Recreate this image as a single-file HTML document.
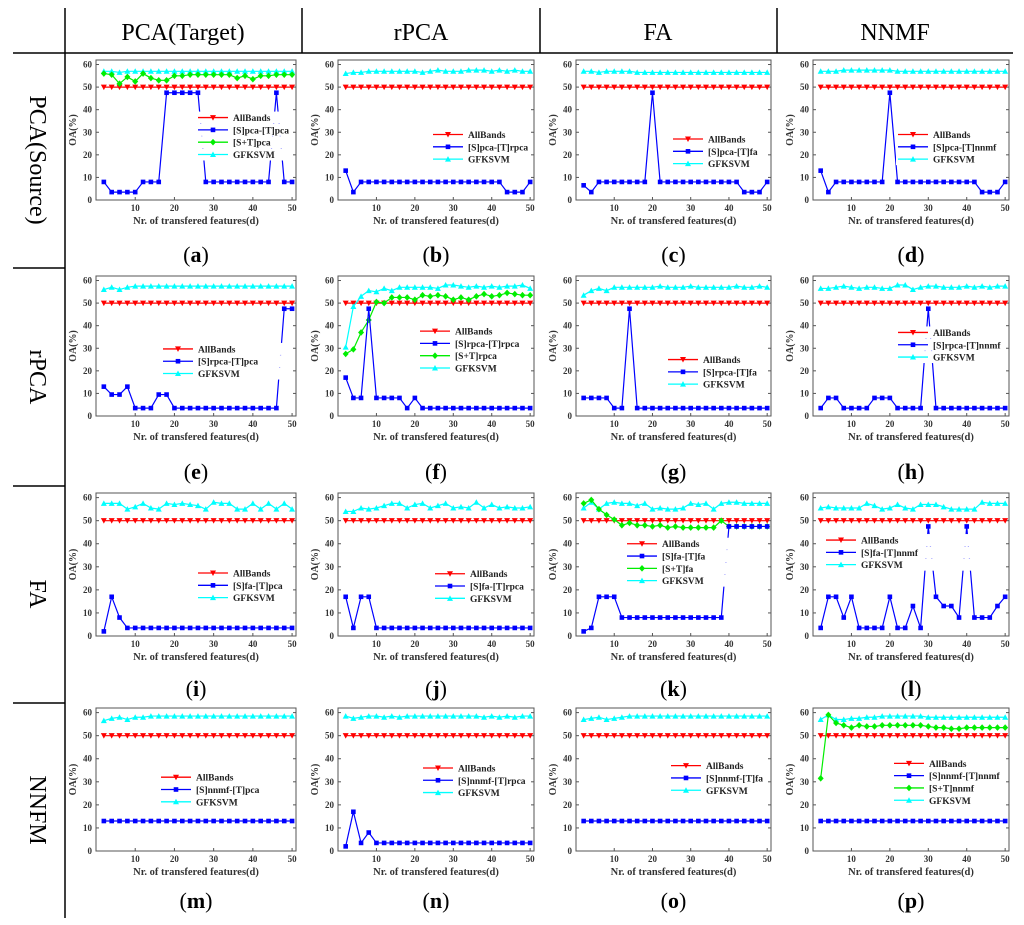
<!DOCTYPE html>
<html><head><meta charset="utf-8"><style>
html,body{margin:0;padding:0;background:#fff;}
svg{display:block;font-family:"Liberation Serif",serif;}
</style></head><body>
<svg id="fig" width="1024" height="925" viewBox="0 0 1024 925">
<g stroke="#000" stroke-width="1.5">
<line x1="65" y1="8" x2="65" y2="918"/>
<line x1="13" y1="53" x2="1013" y2="53"/>
<line x1="302" y1="8" x2="302" y2="53"/>
<line x1="540" y1="8" x2="540" y2="53"/>
<line x1="777" y1="8" x2="777" y2="53"/>
<line x1="13" y1="268" x2="65" y2="268"/>
<line x1="13" y1="486" x2="65" y2="486"/>
<line x1="13" y1="703" x2="65" y2="703"/>
</g>
<g font-size="24" text-anchor="middle">
<text x="183" y="40">PCA(Target)</text>
<text x="421" y="40">rPCA</text>
<text x="658" y="40">FA</text>
<text x="895" y="40">NNMF</text>
<text transform="translate(30,160) rotate(90)">PCA(Source)</text>
<text transform="translate(30,377) rotate(90)">rPCA</text>
<text transform="translate(30,594) rotate(90)">FA</text>
<text transform="translate(30,810) rotate(90)">NNFM</text>
</g>
<g id="panels"></g>
</svg>
<script>
const xs = [2,4,6,8,10,12,14,16,18,20,22,24,26,28,30,32,34,36,38,40,42,44,46,48,50];
const xTicks = [10,20,30,40,50];
const yTicks = [0,10,20,30,40,50,60];
const letters = ['a','b','c','d','e','f','g','h','i','j','k','l','m','n','o','p'];
const allBands = 50;
const blueLabels = ['[S]pca-[T]pca','[S]pca-[T]rpca','[S]pca-[T]fa','[S]pca-[T]nnmf','[S]rpca-[T]pca','[S]rpca-[T]rpca','[S]rpca-[T]fa','[S]rpca-[T]nnmf','[S]fa-[T]pca','[S]fa-[T]rpca','[S]fa-[T]fa','[S]fa-[T]nnmf','[S]nnmf-[T]pca','[S]nnmf-[T]rpca','[S]nnmf-[T]fa','[S]nnmf-[T]nnmf'];
const greenLabels = {0:'[S+T]pca',5:'[S+T]rpca',10:'[S+T]fa',15:'[S+T]nnmf'};
const blue = [
[8,3.5,3.5,3.5,3.5,8,8,8,47.5,47.5,47.5,47.5,47.5,8,8,8,8,8,8,8,8,8,47.5,8,8],
[13,3.5,8,8,8,8,8,8,8,8,8,8,8,8,8,8,8,8,8,8,8,3.5,3.5,3.5,8],
[6.5,3.5,8,8,8,8,8,8,8,47.5,8,8,8,8,8,8,8,8,8,8,8,3.5,3.5,3.5,8],
[13,3.5,8,8,8,8,8,8,8,47.5,8,8,8,8,8,8,8,8,8,8,8,3.5,3.5,3.5,8],
[13,9.5,9.5,13,3.5,3.5,3.5,9.5,9.5,3.5,3.5,3.5,3.5,3.5,3.5,3.5,3.5,3.5,3.5,3.5,3.5,3.5,3.5,47.5,47.5],
[17,8,8,47.5,8,8,8,8,3.5,8,3.5,3.5,3.5,3.5,3.5,3.5,3.5,3.5,3.5,3.5,3.5,3.5,3.5,3.5,3.5],
[8,8,8,8,3.5,3.5,47.5,3.5,3.5,3.5,3.5,3.5,3.5,3.5,3.5,3.5,3.5,3.5,3.5,3.5,3.5,3.5,3.5,3.5,3.5],
[3.5,8,8,3.5,3.5,3.5,3.5,8,8,8,3.5,3.5,3.5,3.5,47.5,3.5,3.5,3.5,3.5,3.5,3.5,3.5,3.5,3.5,3.5],
[2,17,8,3.5,3.5,3.5,3.5,3.5,3.5,3.5,3.5,3.5,3.5,3.5,3.5,3.5,3.5,3.5,3.5,3.5,3.5,3.5,3.5,3.5,3.5],
[17,3.5,17,17,3.5,3.5,3.5,3.5,3.5,3.5,3.5,3.5,3.5,3.5,3.5,3.5,3.5,3.5,3.5,3.5,3.5,3.5,3.5,3.5,3.5],
[2,3.5,17,17,17,8,8,8,8,8,8,8,8,8,8,8,8,8,8,47.5,47.5,47.5,47.5,47.5,47.5],
[3.5,17,17,8,17,3.5,3.5,3.5,3.5,17,3.5,3.5,13,3.5,47.5,17,13,13,8,47.5,8,8,8,13,17],
[13,13,13,13,13,13,13,13,13,13,13,13,13,13,13,13,13,13,13,13,13,13,13,13,13],
[2,17,3.5,8,3.5,3.5,3.5,3.5,3.5,3.5,3.5,3.5,3.5,3.5,3.5,3.5,3.5,3.5,3.5,3.5,3.5,3.5,3.5,3.5,3.5],
[13,13,13,13,13,13,13,13,13,13,13,13,13,13,13,13,13,13,13,13,13,13,13,13,13],
[13,13,13,13,13,13,13,13,13,13,13,13,13,13,13,13,13,13,13,13,13,13,13,13,13]
];
const green = {
0:[56,55.5,51.5,54.5,52.5,56,54,53,53,55,55,55.5,55.5,55.5,55.5,55.5,55.5,54,55,53.5,55,55,55.5,55.5,55.5],
5:[27.5,29.5,37,42.5,50.5,50,52.5,52.5,52.5,51.5,53.5,53,53.5,53,51.5,52.5,51.5,53,54,53,53.5,54.5,54,53.5,53.5],
10:[57.5,59,55,52.5,50.5,48,49,48,48,47.5,48,47,47.5,47,47,47,47,47,50,47.5,47.5,47.5,47.5,47.5,47.5],
15:[31.5,59,55.5,54.5,53.5,54.5,54,54,54.5,54.5,54.5,54.5,54.5,54.5,54,53.5,53.5,53,53,53.5,53.5,53.5,53.5,53.5,53.5]
};
const cyan = [
[57,57,56.5,57,57,57,57,57,57,57,57,57,57,57,57,57,57,57,57,57,57,57,57,57,57],
[56,56.5,56.5,57,57,57,57,57,57,57,56.5,57,57.5,57,57,57,57.5,57.5,57.5,57,57.5,57,57.5,57,57],
[57,57,56.5,57,57,57,57,56.5,56.5,56.5,56.5,56.5,56.5,56.5,56.5,56.5,56.5,56.5,56.5,56.5,56.5,56.5,56.5,56.5,56.5],
[57,57,57,57.5,57.5,57.5,57.5,57.5,57.5,57.5,57,57,57,57,57,57,57,57,57,57,57,57,57,57,57],
[56,57,56,57,57.5,57.5,57.5,57.5,57.5,57.5,57.5,57.5,57.5,57.5,57.5,57.5,57.5,57.5,57.5,57.5,57.5,57.5,57.5,57.5,57.5],
[30.5,48.5,53,55.5,55,56.5,55.5,57,57,57,57,57,56.5,58,58,57.5,57,57.5,57,57.5,57,57.5,57.5,58,56.5],
[53.5,55.5,56.5,55.5,57,57,57,57,57,57,57.5,57,57,57,57.5,57,57,57,57,57,57.5,57,57,57.5,57],
[56.5,56.5,57,57.5,57,56.5,57,57,56.5,56.5,58,58,56,57,57.5,57.5,57,57,57,57.5,57,57.5,57,57.5,57.5],
[57.5,57.5,57.5,55,56,57.5,55.5,55,57.5,57,57.5,57,56.5,55,58,57.5,57.5,55,55,57.5,55,57.5,55,57.5,55],
[54,54,55.5,55,55.5,56.5,57.5,57.5,55.5,57,57.5,55.5,56.5,57.5,55.5,56,55.5,58,55.5,57,55.5,56,55.5,55.5,56],
[55.5,58,55,57.5,58,57.5,57.5,56.5,57.5,55,55.5,55,55,55.5,57.5,57,57.5,55,57.5,58,58,57.5,57.5,57.5,57.5],
[55.5,56,55.5,55.5,55.5,55.5,57.5,56.5,55,55.5,57,55.5,55,57,57,57,56,55,55,55,55,58,57.5,57.5,57.5],
[56.5,57.5,58,57,58,58,58.5,58.5,58.5,58.5,58.5,58.5,58.5,58.5,58.5,58.5,58.5,58.5,58.5,58.5,58.5,58.5,58.5,58.5,58.5],
[58.5,57.5,58,58.5,58.5,58,58.5,58,58.5,58.5,58.5,58.5,58.5,58.5,58.5,58.5,58.5,58.5,58,58.5,58,58.5,58,58.5,58.5],
[57,57.5,58,57,57.5,58,58.5,58.5,58.5,58.5,58.5,58.5,58.5,58.5,58.5,58.5,58.5,58.5,58.5,58.5,58.5,58.5,58.5,58.5,58.5],
[57,59,57,57,57.5,57.5,58,58,58.5,58.5,58.5,58.5,58.5,58.5,58,58,58,58,58,58,58,58,58,58,58]
];
const legendValue = [36.5,29,27,29,29.7,37.6,25,37,27.3,27,40,41.6,32,36,37,38];

const NS='http://www.w3.org/2000/svg';
const colLeft=[96,338,576,813], colW=[200,196,195,196];
const rowTop=[60,276,493,708], rowBot=[200,416,636,851];
const letterY=[262,479,696,908];
function mk(tag,attrs,parent){const e=document.createElementNS(NS,tag);for(const k in attrs)e.setAttribute(k,attrs[k]);parent.appendChild(e);return e;}
function marker(g,type,x,y,color){
  let e;
  if(type==='down') e=mk('polygon',{points:`${x-3},${y-2.5} ${x+3},${y-2.5} ${x},${y+3}`,fill:color},g);
  else if(type==='up') e=mk('polygon',{points:`${x-3},${y+2.5} ${x+3},${y+2.5} ${x},${y-3}`,fill:color},g);
  else if(type==='sq') e=mk('rect',{x:x-2.3,y:y-2.3,width:4.6,height:4.6,fill:color},g);
  else e=mk('polygon',{points:`${x},${y-3.3} ${x+3},${y} ${x},${y+3.3} ${x-3},${y}`,fill:color},g);
  return e;
}
const root=document.getElementById('panels');
for(let p=0;p<16;p++){
  const r=Math.floor(p/4), c=p%4;
  const L=colLeft[c], W=colW[c], T=rowTop[r], B=rowBot[r];
  const X=d=>L+(d-0)*W/51;
  const Y=v=>B-v*(B-T)/62;
  const g=mk('g',{},root);
  
  
  const box=mk('rect',{x:L,y:T,width:W,height:B-T,fill:'none',stroke:'#555','stroke-width':1},g);
  
  
  yTicks.forEach(v=>{
    mk('line',{x1:L,x2:L+3,y1:Y(v),y2:Y(v),stroke:'#555'},g);
    mk('line',{x1:L+W,x2:L+W-3,y1:Y(v),y2:Y(v),stroke:'#555'},g);
    const t=mk('text',{x:L-4,y:Y(v)+3,'font-size':9,'font-weight':'bold','text-anchor':'end',fill:'#333'},g);
    t.textContent=v;
    
    
  });
  xTicks.forEach(v=>{
    mk('line',{x1:X(v),x2:X(v),y1:B,y2:B-3,stroke:'#555'},g);
    const t=mk('text',{x:X(v),y:B+11,'font-size':9,'font-weight':'bold','text-anchor':'middle',fill:'#333'},g);
    t.textContent=v;
    
    
  });
  const xl=mk('text',{x:L+W/2,y:B+24,'font-size':10.5,'font-weight':'bold','text-anchor':'middle',fill:'#333'},g);
  xl.textContent='Nr. of transfered features(d)';
  
  
  const yl=mk('text',{transform:`translate(${L-20},${(T+B)/2}) rotate(-90)`,'font-size':10,'font-weight':'bold','text-anchor':'middle',fill:'#333'},g);
  yl.textContent='OA(%)';
  
  
  const lt=mk('text',{x:L+W/2,y:letterY[r],'font-size':22,'text-anchor':'middle'},g);
  lt.innerHTML='(<tspan font-weight="bold">'+letters[p]+'</tspan>)';
  
  
  const series=[{name:'AllBands',vals:xs.map(()=>allBands),color:'#ff0000',m:'down'},
                {name:blueLabels[p],vals:blue[p],color:'#0000ff',m:'sq'}];
  if(green[p]) series.push({name:greenLabels[p],vals:green[p],color:'#00ee00',m:'dia'});
  series.push({name:'GFKSVM',vals:cyan[p],color:'#00ffff',m:'up'});
  const order=[series[0]].concat(series.slice(1).reverse());
  order.forEach(s=>{
    const sg=mk('g',{},g);
    
    
    const pts=s.vals.map((v,i)=>X(xs[i])+','+Y(v)).join(' ');
    mk('polyline',{points:pts,fill:'none',stroke:s.color,'stroke-width':1.2},sg);
    s.vals.forEach((v,i)=>{
      const m=marker(sg,s.m,X(xs[i]),Y(v),s.color);
      
      
    });
  });
  const lg=mk('g',{},g);
  
  
  const ly0=Y(legendValue[p]);
  const lx=L+[102,95,97,85,67,82,92,85,102,97,51,13,65,85,95,81][p];
  series.forEach((s,i)=>{
    const y=ly0+i*12.3;
    const eg=mk('g',{},lg);
    
    
    mk('rect',{x:lx-2,y:y-6,width:W-(lx-L)-1,height:12,fill:'#fff'},eg);
    mk('line',{x1:lx,x2:lx+30,y1:y,y2:y,stroke:s.color,'stroke-width':1.3},eg);
    marker(eg,s.m,lx+15,y,s.color);
    const t=mk('text',{x:lx+35,y:y+3.5,'font-size':9.5,'font-weight':'bold',fill:'#222'},eg);
    t.textContent=s.name;
  });
}
</script>
</body></html>
